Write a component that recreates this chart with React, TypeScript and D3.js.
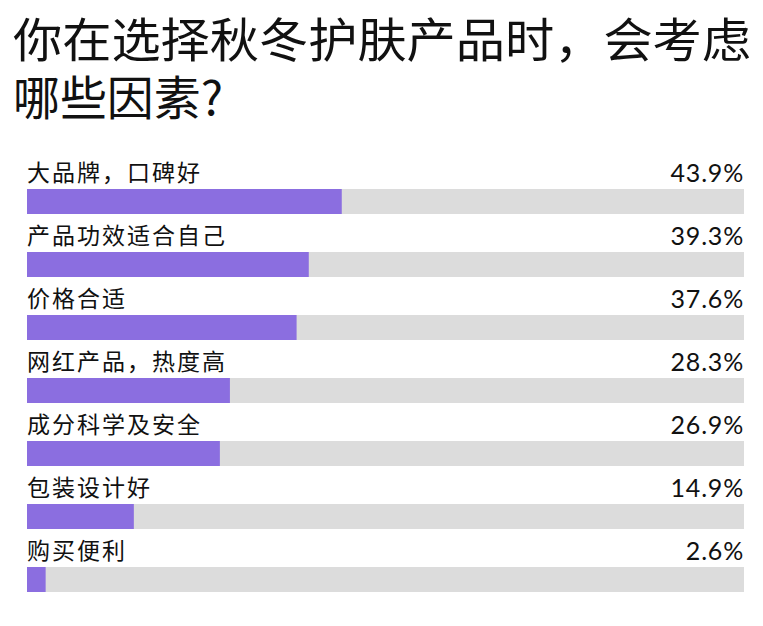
import * as d3 from "d3";

const categories = [
  "大品牌，口碑好",
  "产品功效适合自己",
  "价格合适",
  "网红产品，热度高",
  "成分科学及安全",
  "包装设计好",
  "购买便利",
];
const values = [43.9, 39.3, 37.6, 28.3, 26.9, 14.9, 2.6];
const titleLines = ["你在选择秋冬护肤产品时，会考虑", "哪些因素?"];

const width = 763;
const height = 626;
const cjk = '"Noto Sans CJK SC", "Noto Sans", sans-serif';

export default function App() {
  const x = d3.scaleLinear().domain([0, 100]).range([27, 744]);
  const y = d3
    .scaleBand()
    .domain(categories)
    .range([158, 599])
    .paddingInner(0)
    .paddingOuter(0);
  const barH = 25;
  const bw = y.bandwidth();

  return (
    <svg
      width={width}
      height={height}
      style={{ position: "absolute", left: 0, top: 0, background: "#fff" }}
    >
      {titleLines.map((t, i) => (
        <text
          key={t}
          x={13}
          y={57 + i * 58}
          fontFamily={cjk}
          fontSize={47}
          fill="#111"
          textLength={i === 0 ? 738 : 210}
          lengthAdjust="spacingAndGlyphs"
        >
          {t}
        </text>
      ))}
      {categories.map((c, i) => {
        const top = y(c)!;
        const barY = top + bw - barH - 7;
        return (
          <g key={c}>
            <text
              x={27}
              y={barY - 8}
              fontFamily={cjk}
              fontSize={23}
              letterSpacing={2}
              fill="#111"
            >
              {c}
            </text>
            <text
              x={744}
              y={barY - 7}
              textAnchor="end"
              fontFamily="Lato, sans-serif"
              fontSize={25}
              letterSpacing={0.8}
              fill="#111"
            >
              {values[i].toFixed(1)}%
            </text>
            <rect
              x={x(0)}
              y={barY}
              width={x(100) - x(0)}
              height={barH}
              fill="#dcdcdc"
            />
            <rect
              x={x(0)}
              y={barY}
              width={x(values[i]) - x(0)}
              height={barH}
              fill="#8b6ee0"
            />
          </g>
        );
      })}
    </svg>
  );
}
